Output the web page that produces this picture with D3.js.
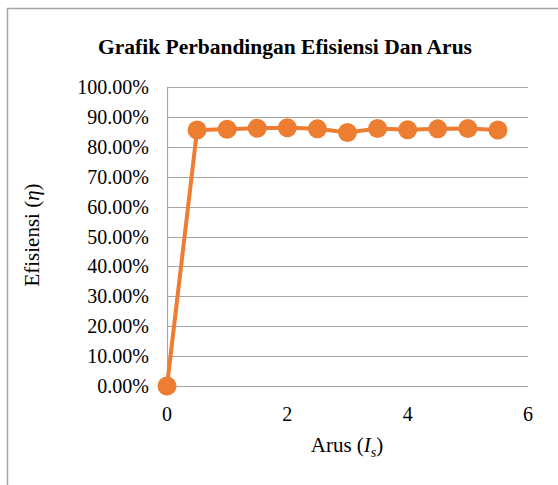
<!DOCTYPE html>
<html>
<head>
<meta charset="utf-8">
<script src="https://cdn.jsdelivr.net/npm/d3@7"></script>
<style>
  body { margin: 0; background: #fff; }
  text { font-family: "Liberation Serif", "Times New Roman", serif; fill: #000; }
</style>
</head>
<body>
<script>
// data
var arus = [0, 0.5, 1, 1.5, 2, 2.5, 3, 3.5, 4, 4.5, 5, 5.5];
var efisiensi = [0, 0.856, 0.859, 0.862, 0.864, 0.860, 0.848, 0.861, 0.857, 0.860, 0.861, 0.856];
var xTicks = [0, 2, 4, 6];
var yTicks = [0, 0.1, 0.2, 0.3, 0.4, 0.5, 0.6, 0.7, 0.8, 0.9, 1.0];

var width = 558, height = 485;

var svg = d3.select("body").append("svg")
    .attr("width", width)
    .attr("height", height);

// chart border
svg.append("rect")
    .attr("x", 7.5).attr("y", 8.5)
    .attr("width", 560).attr("height", 490)
    .attr("fill", "none")
    .attr("stroke", "#a6a6a6")
    .attr("stroke-width", 1.5);

var x = d3.scaleLinear().domain([0, 6]).range([167, 528]);
var y = d3.scaleLinear().domain([0, 1]).range([386, 87]);

// gridlines
svg.append("g")
    .selectAll("line")
    .data(yTicks)
    .enter().append("line")
    .attr("x1", x(0)).attr("x2", x(6))
    .attr("y1", function(d) { return Math.round(y(d)) + 0.5; })
    .attr("y2", function(d) { return Math.round(y(d)) + 0.5; })
    .attr("stroke", "#a6a6a6")
    .attr("stroke-width", 1.2);

// y axis line
svg.append("line")
    .attr("x1", x(0) + 0.5).attr("x2", x(0) + 0.5)
    .attr("y1", y(1)).attr("y2", y(0))
    .attr("stroke", "#a6a6a6")
    .attr("stroke-width", 1.2);

// y tick labels
svg.append("g")
    .selectAll("text")
    .data(yTicks)
    .enter().append("text")
    .attr("x", 149)
    .attr("y", function(d) { return y(d); })
    .attr("dy", "0.35em")
    .attr("text-anchor", "end")
    .style("font-size", "20px")
    .text(function(d) { return d3.format(".2%")(d); });

// x tick labels
svg.append("g")
    .selectAll("text")
    .data(xTicks)
    .enter().append("text")
    .attr("x", function(d) { return x(d); })
    .attr("y", 421)
    .attr("text-anchor", "middle")
    .style("font-size", "20px")
    .text(function(d) { return d; });

// the line
var line = d3.line()
    .x(function(d, i) { return x(arus[i]); })
    .y(function(d) { return y(d); });

svg.append("path")
    .datum(efisiensi)
    .attr("d", line)
    .attr("fill", "none")
    .attr("stroke", "#ED7D31")
    .attr("stroke-width", 4);

svg.append("g")
    .selectAll("circle")
    .data(efisiensi)
    .enter().append("circle")
    .attr("cx", function(d, i) { return x(arus[i]); })
    .attr("cy", function(d) { return y(d); })
    .attr("r", 9.5)
    .attr("fill", "#ED7D31");

// title
svg.append("text")
    .attr("x", 285)
    .attr("y", 54)
    .attr("text-anchor", "middle")
    .style("font-size", "21.5px")
    .style("font-weight", "bold")
    .text("Grafik Perbandingan Efisiensi Dan Arus");

// axis titles
var xt = svg.append("text")
    .attr("x", 347)
    .attr("y", 452)
    .attr("text-anchor", "middle")
    .style("font-size", "21px");
xt.append("tspan").text("Arus (");
xt.append("tspan").style("font-style", "italic").text("I");
xt.append("tspan").style("font-style", "italic").style("font-size", "14px").attr("dy", 5).text("s");
xt.append("tspan").attr("dy", -5).text(")");

var yt = svg.append("text")
    .attr("transform", "translate(39,235) rotate(-90)")
    .attr("text-anchor", "middle")
    .style("font-size", "21px");
yt.append("tspan").text("Efisiensi (");
yt.append("tspan").style("font-style", "italic").text("η");
yt.append("tspan").text(")");
</script>
</body>
</html>
